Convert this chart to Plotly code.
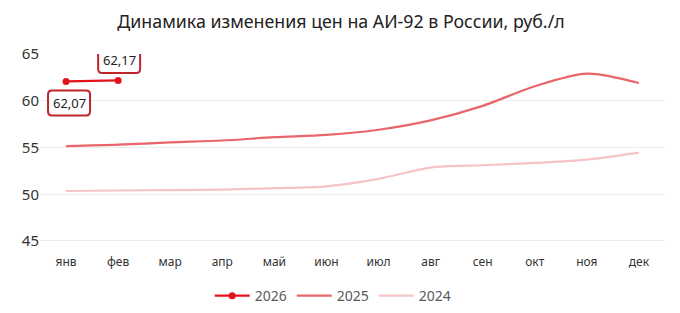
import plotly.graph_objects as go

months = ["янв", "фев", "мар", "апр", "май", "июн", "июл", "авг", "сен", "окт", "ноя", "дек"]
y2026 = [62.07, 62.17]
y2025 = [55.15, 55.3, 55.55, 55.75, 56.1, 56.35, 56.9, 57.9, 59.45, 61.55, 62.9, 61.9]
y2024 = [50.35, 50.4, 50.45, 50.5, 50.65, 50.85, 51.65, 52.85, 53.1, 53.35, 53.7, 54.45]
labels2026 = ["62,07", "62,17"]

fig = go.Figure()
fig.add_trace(go.Scatter(x=months, y=y2024, name="2024", mode="lines",
                         line=dict(color="#F6C4C7", width=2.2, shape="spline", smoothing=0.8)))
fig.add_trace(go.Scatter(x=months, y=y2025, name="2025", mode="lines",
                         line=dict(color="#E8666A", width=2.2, shape="spline", smoothing=0.8)))
fig.add_trace(go.Scatter(x=months[:len(y2026)], y=y2026, name="2026", mode="lines+markers",
                         line=dict(color="#E3141C", width=2.2), marker=dict(size=7, color="#E3141C")))


def rrect(x0, y0, x1, y1, r=4):
    return (f"M {x0+r},{y0} L {x1-r},{y0} Q {x1},{y0} {x1},{y0+r} L {x1},{y1-r} "
            f"Q {x1},{y1} {x1-r},{y1} L {x0+r},{y1} Q {x0},{y1} {x0},{y1-r} "
            f"L {x0},{y0+r} Q {x0},{y0} {x0+r},{y0} Z")

offsets = [(3, -21.5), (1, 20)]
for i, (val, lab) in enumerate(zip(y2026, labels2026)):
    dx, dy = offsets[i]
    fig.add_shape(type="path", xref="x", yref="y", xsizemode="pixel", ysizemode="pixel",
                  xanchor=i, yanchor=val,
                  path=rrect(dx - 21, dy - 12.5, dx + 21, dy + 12.5),
                  line=dict(color="#C0242B", width=2), fillcolor="white", layer="above")
    fig.add_annotation(x=i, y=val, text=lab, showarrow=False, xshift=dx, yshift=dy,
                       font=dict(size=13, color="#222222"))

fig.update_layout(
    width=680, height=313,
    margin=dict(l=40, r=15, t=54, b=72),
    paper_bgcolor="white", plot_bgcolor="white",
    font=dict(family="Noto Sans, Open Sans, sans-serif", color="#333333"),
    title=dict(text="Динамика изменения цен на АИ-92 в России, руб./л",
               x=0.5015, xanchor="center", y=0.93, yanchor="middle", xref="container",
               font=dict(size=17.8, color="#222222")),
    showlegend=True,
    legend=dict(orientation="h", x=0.49, xanchor="center", xref="container",
                y=0.054, yanchor="middle", yref="container",
                traceorder="reversed", font=dict(size=14, color="#595959"),
                itemwidth=35),
    xaxis=dict(type="category", range=[-0.5, 11.5], showgrid=False, showline=False, ticks="",
               automargin=False, ticklabelstandoff=12, tickfont=dict(size=12, color="#333333")),
    yaxis=dict(range=[45, 65], dtick=5, showgrid=True, gridcolor="#EEEEEE",
               zeroline=False, showline=False, ticks="", automargin=False,
               tickfont=dict(size=15, color="#333333")),
)
fig.add_hline(y=45, line=dict(color="#D6D6D6", width=1.2), layer="below")
fig.write_html("out.html")
